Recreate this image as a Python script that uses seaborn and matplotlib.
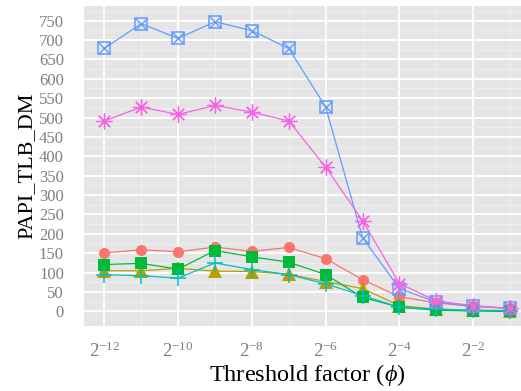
import numpy as np
import pandas as pd
import matplotlib
matplotlib.use("Agg")
import matplotlib.pyplot as plt
import seaborn as sns

# Threshold factor exponents (phi = 2**exp)
exponents = [-12, -11, -10, -9, -8, -7, -6, -5, -4, -3, -2, -1]

series_names = ["A", "B", "C", "D", "E", "F"]
red_vals = [151, 159, 154, 166, 155, 165, 136, 82, 38, 22, 13, 8]
olive_vals = [105, 105, 111, 104, 103, 96, 77, 59, 15, 6, 3, 2]
green_vals = [121, 124, 109, 157, 141, 127, 95, 36, 11, 3, 1, 0]
cyan_vals = [95, 92, 86, 125, 108, 95, 71, 41, 11, 6, 3, 2]
blue_vals = [678, 742, 704, 747, 724, 678, 527, 190, 59, 24, 13, 8]
pink_vals = [491, 527, 508, 531, 514, 491, 372, 234, 72, 27, 15, 8]

y_ticks = [0, 50, 100, 150, 200, 250, 300, 350, 400, 450, 500, 550, 600, 650, 700, 750]
x_tick_exps = [-12, -10, -8, -6, -4, -2]
x_minor_exps = [-11, -9, -7, -5, -3, -1]

colors = ["#F8766D", "#B79F00", "#00BA38", "#00BFC4", "#619CFF", "#F564E3"]
all_vals = [red_vals, olive_vals, green_vals, cyan_vals, blue_vals, pink_vals]

rows = []
for name, vals in zip(series_names, all_vals):
    for e, v in zip(exponents, vals):
        rows.append({"series": name, "phi": 2.0 ** e, "value": v})
df = pd.DataFrame(rows)

sns.set_theme(style="darkgrid")
plt.rcParams["font.family"] = ["Liberation Serif", "DejaVu Serif"]
plt.rcParams["mathtext.fontset"] = "custom"
plt.rcParams["mathtext.rm"] = "Liberation Serif"
plt.rcParams["mathtext.it"] = "Liberation Serif:italic"
plt.rcParams["mathtext.fallback"] = "stix"

W, H = 521, 391
fig = plt.figure(figsize=(W / 100, H / 100), dpi=100)
px_left, px_right, px_top, px_bottom = 84, 521, 6, 326
ax = fig.add_axes([px_left / W, 1 - px_bottom / H,
                   (px_right - px_left) / W, (px_bottom - px_top) / H])
ax.set_facecolor("#E5E5E5")

# lines first, all markers on top
for name, col in zip(series_names, colors):
    sub = df[df["series"] == name]
    sns.lineplot(data=sub, x="phi", y="value", color=col, linewidth=0.9,
                 ax=ax, zorder=3, legend=False)

marker_specs = {
    "A": dict(marker="o", markersize=8, markeredgewidth=0),
    "B": dict(marker="^", markersize=10, markeredgewidth=0),
    "C": dict(marker="s", markersize=9, markeredgewidth=0),
    "D": dict(marker="+", markersize=11, markeredgewidth=1.1),
    "F": dict(marker=(8, 2, 0), markersize=11.5, markeredgewidth=0.9),
}
for name, col in zip(series_names, colors):
    sub = df[df["series"] == name]
    if name == "E":
        ax.plot(sub["phi"], sub["value"], linestyle="none", marker="s",
                markersize=8.5, markerfacecolor="none", markeredgecolor=col,
                markeredgewidth=1.1, zorder=4)
        ax.plot(sub["phi"], sub["value"], linestyle="none", marker="x",
                markersize=8.5, markeredgecolor=col, markeredgewidth=1.0,
                zorder=4)
    else:
        spec = marker_specs[name]
        ax.plot(sub["phi"], sub["value"], linestyle="none", color=col,
                markeredgecolor=col, zorder=4, **spec)

ax.set_xscale("log", base=2)
ax.set_xlim(2.0 ** -12.55, 2.0 ** -0.707)
ax.set_ylim(-37.5, 787.5)

ax.set_xticks([2.0 ** e for e in x_tick_exps])
ax.set_xticklabels([rf"$2^{{{e}}}$" for e in x_tick_exps])
ax.set_xticks([2.0 ** e for e in x_minor_exps], minor=True)
ax.set_xticklabels([], minor=True)
ax.set_yticks(y_ticks)
ax.set_yticklabels([str(t) for t in y_ticks])
ax.set_yticks([t + 25 for t in y_ticks], minor=True)

ax.grid(which="major", color="white", linewidth=1.3)
ax.grid(which="minor", color="#F2F2F2", linewidth=0.6)
ax.set_axisbelow(True)
for s in ax.spines.values():
    s.set_visible(False)

ax.tick_params(axis="both", which="major", direction="out", length=7.5,
               width=1.0, color="#7F7F7F", labelcolor="#7F7F7F")
ax.tick_params(axis="y", which="major", pad=7, labelsize=12)
ax.tick_params(axis="x", which="major", pad=4, labelsize=13.5)
ax.tick_params(axis="both", which="minor", length=0)

ax.set_xlabel(r"Threshold factor ($\phi$)", fontsize=17.5, color="black")
ax.set_ylabel("PAPI_TLB_DM", fontsize=16, color="black")
ax.xaxis.set_label_coords((307 - px_left) / (px_right - px_left),
                          (px_bottom - 362) / (px_bottom - px_top))
ax.yaxis.set_label_coords((36 - px_left) / (px_right - px_left), 0.5)

fig.savefig("out.png", dpi=100)
